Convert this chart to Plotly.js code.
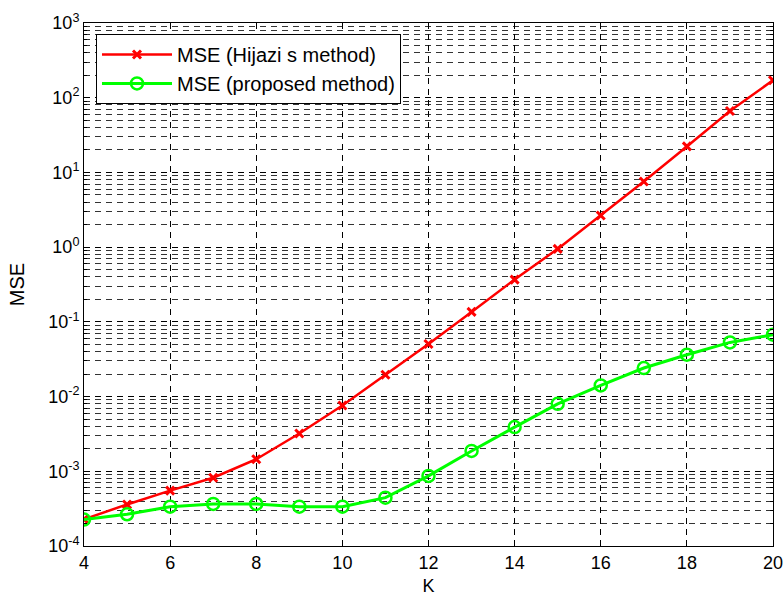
<!DOCTYPE html>
<html>
<head>
<meta charset="utf-8">
<script src="https://cdn.plot.ly/plotly-3.0.1.min.js"></script>
<style>html,body{margin:0;padding:0;background:#fff;}#chart{width:783px;height:596px;}</style>
</head>
<body>
<div id="chart"></div>
<script>
const K = [4,5,6,7,8,9,10,11,12,13,14,15,16,17,18,19,20];
const mseHijazi = [2.28e-4,3.6e-4,5.5e-4,8.2e-4,1.45e-3,3.2e-3,7.6e-3,0.0196,0.0506,0.136,0.368,0.948,2.65,7.57,22.3,66.4,171];
const mseProposed = [2.26e-4,2.66e-4,3.36e-4,3.66e-4,3.66e-4,3.36e-4,3.36e-4,4.44e-4,8.67e-4,1.87e-3,3.9e-3,8.0e-3,0.0141,0.0241,0.0363,0.0531,0.0673];
const yTickVals = [1e-4,1e-3,1e-2,1e-1,1e0,1e1,1e2,1e3];
const yTickText = ['10<sup>-4</sup>','10<sup>-3</sup>','10<sup>-2</sup>','10<sup>-1</sup>','10<sup>0</sup>','10<sup>1</sup>','10<sup>2</sup>','10<sup>3</sup>'];
const seriesNames = ['MSE (Hijazi s method)','MSE (proposed method)'];

const minorVals = [];
for (let e = -4; e < 3; e++) { for (let d = 2; d <= 9; d++) minorVals.push(d * Math.pow(10, e)); }

const font = 'Liberation Sans, Arial, sans-serif';
const traces = [
  {x: K, y: mseHijazi, name: seriesNames[0], type: 'scatter', mode: 'lines+markers',
   line: {color: '#ff0000', width: 2.5}, marker: {symbol: 'x-thin-open', size: 8, color: '#ff0000', line: {color: '#ff0000', width: 3}}},
  {x: K, y: mseProposed, name: seriesNames[1], type: 'scatter', mode: 'lines+markers',
   line: {color: '#00ff00', width: 3}, marker: {symbol: 'circle-open', size: 12, color: '#00ff00', line: {color: '#00ff00', width: 2.5}}}
];
const layout = {
  width: 783, height: 596,
  margin: {l: 84, r: 10, t: 23, b: 50},
  paper_bgcolor: '#fff', plot_bgcolor: '#fff',
  font: {family: font, size: 18, color: '#000'},
  showlegend: true,
  legend: {x: 0.0174, y: 0.979, xanchor: 'left', yanchor: 'top', bgcolor: '#fff', bordercolor: '#000', borderwidth: 1,
           font: {family: font, size: 20, color: '#000'}, itemwidth: 70, tracegroupgap: 4},
  xaxis: {range: [4, 20], dtick: 2, tick0: 4, ticks: 'inside', ticklen: 5, tickcolor: '#000',
          ticklabeloverflow: 'allow',
          showline: true, linecolor: '#000', linewidth: 1, mirror: 'ticks', zeroline: false,
          showgrid: true, gridcolor: '#000', gridwidth: 1, griddash: '6px,5px',
          title: {text: 'K', font: {family: font, size: 18}, standoff: 12}},
  yaxis: {type: 'log', range: [-4, 3], tickmode: 'array', tickvals: yTickVals, ticktext: yTickText,
          ticks: 'inside', ticklen: 5, tickcolor: '#000',
          showline: true, linecolor: '#000', linewidth: 1, mirror: 'ticks', zeroline: false,
          showgrid: true, gridcolor: '#000', gridwidth: 1, griddash: '6px,5px',
          minor: {tickmode: 'array', tickvals: minorVals, ticks: 'inside', ticklen: 3, tickcolor: '#000',
                  showgrid: true, gridcolor: '#333', gridwidth: 1, griddash: '6px,5px'},
          title: {text: 'MSE', font: {family: font, size: 20}, standoff: 18}}
};
Plotly.newPlot('chart', traces, layout, {displayModeBar: false, staticPlot: true});
</script>
</body>
</html>
